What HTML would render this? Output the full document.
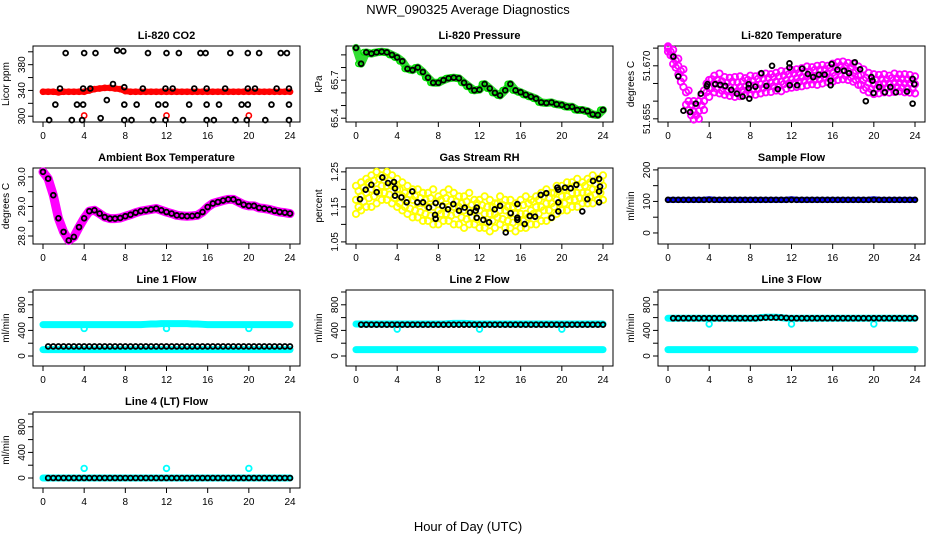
<!DOCTYPE html>
<html><head><meta charset="utf-8"><style>
html,body{margin:0;padding:0;background:#fff;}
svg text{font-family:"Liberation Sans",Arial,sans-serif;}
</style></head><body>
<svg id="chart" width="936" height="540" viewBox="0 0 936 540" xmlns="http://www.w3.org/2000/svg">
<rect width="936" height="540" fill="#fff"/>
<text x="468" y="14" text-anchor="middle" font-size="13">NWR_090325  Average Diagnostics</text>
<text x="468" y="531" text-anchor="middle" font-size="13">Hour of Day (UTC)</text>
</svg>
<script>
const HOURS = [0,0.5,1,1.5,2,2.5,3,3.5,4,4.5,5,5.5,6,6.5,7,7.5,8,8.5,9,9.5,10,10.5,11,11.5,12,12.5,13,13.5,14,14.5,15,15.5,16,16.5,17,17.5,18,18.5,19,19.5,20,20.5,21,21.5,22,22.5,23,23.5,24];
const HOURS_Q = [0.25,0.75,1.25,1.75,2.25,2.75,3.25,3.75,4.25,4.75,5.25,5.75,6.25,6.75,7.25,7.75,8.25,8.75,9.25,9.75,10.25,10.75,11.25,11.75,12.25,12.75,13.25,13.75,14.25,14.75,15.25,15.75,16.25,16.75,17.25,17.75,18.25,18.75,19.25,19.75,20.25,20.75,21.25,21.75,22.25,22.75,23.25,23.75];
const X_TICKS = [0,4,8,12,16,20,24];

// CO2
const co2Red = [338,338,338,337,338,338,338,338,338,340,342,343,344,344,343,342,339,338,338,338,338,338,338,338,338,338,338,338,338,338,338,338,338,338,338,338,338,338,338,338,338,338,338,338,338,338,338,338,338];
const co2RedExtraHours = [4,12,20];
const co2RedExtraVals = [301,301,301];
const co2BlackHours = [2.2,4.0,5.1,7.2,7.8,10.2,12.0,13.2,15.3,15.8,18.2,19.9,21.0,23.1,23.7, 1.65,3.9,4.6,6.8,7.9,9.7,11.9,12.6,14.7,15.9,17.7,19.9,20.6,22.7,23.9, 1.2,3.3,3.9,6.2,7.9,9.1,11.2,11.9,14.2,15.9,17.1,19.3,19.9,22.2,23.9, 0.6,2.8,3.8,5.6,7.9,8.6,10.7,11.9,13.6,15.9,16.6,18.7,19.8,21.6,23.9];
const co2BlackVals = [398,398,398,402,401,398,398,398,398,398,398,398,398,398,398, 343,343,343,350,345,343,343,343,343,343,343,343,343,343,343, 318,318,318,325,318,318,318,318,318,318,318,318,318,318,318, 294,294,294,297,294,294,294,294,294,294,294,294,294,294,294];

// Pressure
const presGreen = [65.955,65.83,65.92,65.91,65.92,65.925,65.92,65.90,65.88,65.85,65.79,65.78,65.80,65.765,65.72,65.68,65.68,65.70,65.715,65.72,65.715,65.68,65.65,65.62,65.625,65.67,65.635,65.60,65.58,65.62,65.67,65.62,65.605,65.585,65.57,65.555,65.525,65.52,65.525,65.51,65.505,65.49,65.49,65.465,65.465,65.455,65.43,65.425,65.465];
const presBlack = presGreen;

// Li-820 temperature
const tMid = [51.6750,51.6726,51.6700,51.6665,51.6600,51.6570,51.6572,51.6600,51.6637,51.6650,51.6648,51.6642,51.6640,51.6638,51.6640,51.6642,51.6645,51.6645,51.6648,51.6650,51.6652,51.6655,51.6655,51.6660,51.6662,51.6665,51.6668,51.6670,51.6672,51.6673,51.6675,51.6678,51.6680,51.6685,51.6688,51.6685,51.6680,51.6672,51.6660,51.6652,51.6648,51.6648,51.6650,51.6650,51.6652,51.6652,51.6650,51.6650,51.6648];
const tHi = [51.6755,51.6745,51.6720,51.6690,51.6630,51.6600,51.6600,51.6630,51.6660,51.6672,51.6678,51.6668,51.6666,51.6668,51.6670,51.6665,51.6672,51.6670,51.6675,51.6678,51.6676,51.6680,51.6685,51.6684,51.6688,51.6690,51.6693,51.6698,51.6696,51.6700,51.6702,51.6700,51.6706,51.6710,51.6712,51.6708,51.6706,51.6698,51.6690,51.6680,51.6676,51.6674,51.6676,51.6672,51.6678,51.6675,51.6676,51.6674,51.6670];
const tLo = [51.6740,51.6705,51.6675,51.6640,51.6575,51.6548,51.6550,51.6575,51.6612,51.6625,51.6622,51.6618,51.6615,51.6612,51.6614,51.6618,51.6620,51.6618,51.6622,51.6625,51.6626,51.6630,51.6628,51.6635,51.6638,51.6640,51.6642,51.6645,51.6648,51.6646,51.6650,51.6654,51.6655,51.6660,51.6662,51.6660,51.6655,51.6646,51.6632,51.6625,51.6620,51.6622,51.6625,51.6624,51.6626,51.6628,51.6625,51.6624,51.6622];
const tQa = [51.6740,51.6715,51.6685,51.6625,51.6590,51.6588,51.6615,51.6650,51.6662,51.6660,51.6656,51.6652,51.6655,51.6653,51.6656,51.6660,51.6657,51.6663,51.6664,51.6666,51.6668,51.6670,51.6673,51.6676,51.6678,51.6680,51.6684,51.6684,51.6688,51.6689,51.6690,51.6694,51.6697,51.6700,51.6699,51.6694,51.6686,51.6674,51.6666,51.6662,51.6660,51.6663,51.6662,51.6665,51.6664,51.6663,51.6662,51.6660];
const tQb = [51.6730,51.6695,51.6655,51.6590,51.6560,51.6560,51.6588,51.6625,51.6637,51.6635,51.6630,51.6628,51.6625,51.6628,51.6630,51.6632,51.6632,51.6634,51.6637,51.6640,51.6642,51.6642,51.6648,51.6650,51.6652,51.6655,51.6657,51.6660,51.6660,51.6662,51.6666,51.6667,51.6672,51.6675,51.6672,51.6668,51.6660,51.6646,51.6638,51.6634,51.6635,51.6637,51.6637,51.6639,51.6640,51.6638,51.6637,51.6635];
const tBlackHours = [0.52,1.0,1.5,2.15,2.7,3.19,3.77,3.84,4.59,5.07,5.56,6.15,6.7,7.25,7.84,7.84,7.9,8.49,9.07,9.56,10.11,10.67,11.8,11.8,11.83,12.55,13.04,13.59,14.11,14.67,15.22,15.8,15.8,15.9,16.46,17.11,17.59,18.15,18.67,19.22,19.77,19.87,19.97,20.52,21.07,21.6,22.15,23.22,23.77,23.93,23.77];
const tBlackVals = [51.6726,51.6670,51.6573,51.6569,51.6593,51.6621,51.6642,51.6648,51.6648,51.6646,51.6643,51.6632,51.6621,51.6613,51.6648,51.6637,51.6607,51.6641,51.6679,51.6643,51.6700,51.6634,51.6707,51.6695,51.6645,51.6645,51.6692,51.6677,51.6668,51.6675,51.6675,51.6658,51.6645,51.6705,51.6689,51.6686,51.6679,51.6710,51.6690,51.6600,51.6668,51.6658,51.6623,51.6640,51.6625,51.6640,51.6625,51.6627,51.6663,51.6648,51.6593];

// Ambient box temperature
const ambVals = [30.17,29.94,29.38,28.6,28.14,27.85,27.97,28.3,28.6,28.84,28.87,28.76,28.64,28.59,28.59,28.61,28.67,28.72,28.79,28.84,28.87,28.9,28.93,28.87,28.81,28.76,28.7,28.68,28.67,28.68,28.7,28.81,28.98,29.1,29.15,29.2,29.24,29.24,29.15,29.06,29.02,29.02,28.95,28.93,28.9,28.85,28.81,28.79,28.76];

// Gas stream RH
const rhMid = [1.17,1.18,1.19,1.20,1.20,1.21,1.21,1.21,1.20,1.18,1.17,1.17,1.16,1.16,1.15,1.15,1.14,1.15,1.15,1.15,1.15,1.14,1.14,1.14,1.14,1.13,1.13,1.13,1.14,1.14,1.13,1.13,1.13,1.13,1.14,1.15,1.15,1.16,1.16,1.17,1.18,1.18,1.19,1.19,1.19,1.19,1.20,1.20,1.21];
const rhHi = [1.21,1.22,1.23,1.24,1.25,1.24,1.25,1.24,1.23,1.22,1.21,1.20,1.20,1.19,1.19,1.20,1.18,1.19,1.20,1.19,1.18,1.18,1.19,1.17,1.17,1.18,1.17,1.16,1.18,1.17,1.17,1.16,1.17,1.18,1.17,1.18,1.19,1.20,1.19,1.21,1.21,1.22,1.22,1.23,1.22,1.23,1.24,1.23,1.24];
const rhLo = [1.13,1.14,1.15,1.15,1.16,1.17,1.17,1.16,1.15,1.14,1.13,1.12,1.12,1.11,1.11,1.10,1.10,1.11,1.11,1.10,1.10,1.09,1.10,1.10,1.09,1.09,1.08,1.09,1.10,1.09,1.09,1.08,1.09,1.09,1.10,1.10,1.11,1.11,1.12,1.13,1.14,1.14,1.15,1.15,1.16,1.16,1.16,1.17,1.17];
const rhQa = [1.195,1.205,1.22,1.225,1.23,1.235,1.225,1.21,1.2,1.19,1.185,1.18,1.175,1.17,1.175,1.165,1.17,1.175,1.17,1.165,1.16,1.165,1.155,1.16,1.155,1.15,1.15,1.16,1.155,1.15,1.15,1.15,1.155,1.16,1.165,1.17,1.18,1.175,1.19,1.195,1.2,1.205,1.21,1.205,1.21,1.22,1.215,1.225];
const rhQb = [1.15,1.165,1.175,1.18,1.19,1.19,1.185,1.175,1.16,1.15,1.145,1.14,1.135,1.13,1.125,1.12,1.13,1.13,1.125,1.13,1.12,1.115,1.12,1.115,1.11,1.105,1.11,1.12,1.115,1.11,1.105,1.11,1.11,1.12,1.13,1.13,1.14,1.14,1.15,1.16,1.16,1.17,1.17,1.175,1.175,1.18,1.185,1.19];
const rhBlackHours = [0.39,0.94,1.49,2.01,2.56,3.11,3.69,3.79,3.79,4.41,4.92,5.47,5.96,6.51,7.09,7.68,7.74,7.74,8.39,8.94,9.46,10.01,10.56,11.08,11.63,11.73,11.73,12.37,12.93,13.48,14.0,14.55,15.03,15.68,15.68,15.68,16.39,16.88,17.40,17.95,18.49,19.01,19.57,19.66,19.66,19.66,20.31,20.86,21.41,21.99,22.48,23.03,23.62,23.62,23.71,23.62];
const rhBlackVals = [1.172,1.199,1.213,1.192,1.234,1.218,1.221,1.203,1.182,1.177,1.163,1.194,1.163,1.163,1.148,1.127,1.116,1.161,1.153,1.143,1.158,1.139,1.148,1.134,1.139,1.148,1.119,1.113,1.106,1.143,1.153,1.077,1.132,1.158,1.119,1.113,1.101,1.124,1.122,1.184,1.189,1.119,1.205,1.199,1.163,1.137,1.205,1.203,1.213,1.137,1.172,1.224,1.230,1.194,1.208,1.163];

// Flows
const sampleBlue = [105,105,105,105,105,105,105,105,107,105,105,105,105,105,105,105,105,105,105,105,105,105,105,105,107,105,105,105,105,105,105,105,105,105,105,105,105,105,105,105,107,105,105,105,105,105,105,105,105];
const sampleBlack = [105,105,105,105,105,105,105,105,105,105,105,105,105,105,105,105,105,105,105,105,105,105,105,105,105,105,105,105,105,105,105,105,105,105,105,105,105,105,105,105,105,105,105,105,105,105,105,105,105];
const l1CyanHi = [490,490,490,490,490,490,490,490,490,490,490,490,490,490,490,490,490,490,490,490,495,500,500,505,505,505,505,505,505,500,500,495,490,490,490,490,490,490,490,490,490,490,490,490,490,490,490,490,490];
const l1CyanLo = [100,100,100,100,100,100,100,100,100,100,100,100,100,100,100,100,100,100,100,100,100,100,100,100,100,100,100,100,100,100,100,100,100,100,100,100,100,100,100,100,100,100,100,100,100,100,100,100,100];
const l1Black = [150,150,150,150,150,150,150,150,150,150,150,150,150,150,150,150,150,150,150,150,150,150,150,150,150,150,150,150,150,150,150,150,150,150,150,150,150,150,150,150,150,150,150,150,150,150,150,150];
const l2CyanHi = [500,500,500,500,500,500,500,500,500,500,500,500,500,500,500,500,500,500,505,510,510,510,505,500,500,500,500,500,500,500,500,500,500,500,500,500,500,500,500,500,500,500,500,500,500,500,500,500,500];
const l2CyanLo = [100,100,100,100,100,100,100,100,100,100,100,100,100,100,100,100,100,100,100,100,100,100,100,100,100,100,100,100,100,100,100,100,100,100,100,100,100,100,100,100,100,100,100,100,100,100,100,100,100];
const l2Black = [490,490,490,490,490,490,490,490,490,490,490,490,490,490,490,490,490,490,490,490,490,490,490,490,490,490,490,490,490,490,490,490,490,490,490,490,490,490,490,490,490,490,490,490,490,490,490,490];
const l3CyanHi = [590,590,590,590,590,590,590,590,590,590,590,590,590,590,590,590,590,590,600,605,605,605,600,590,590,590,590,590,590,590,590,590,590,590,590,590,590,590,590,590,590,590,590,590,590,590,590,590,590];
const l3CyanLo = [100,100,100,100,100,100,100,100,100,100,100,100,100,100,100,100,100,100,100,100,100,100,100,100,100,100,100,100,100,100,100,100,100,100,100,100,100,100,100,100,100,100,100,100,100,100,100,100,100];
const l3Black = [590,590,590,590,590,590,590,590,590,590,590,590,590,590,590,590,590,595,600,600,600,600,595,590,590,590,590,590,590,590,590,590,590,590,590,590,590,590,590,590,590,590,590,590,590,590,590,590];
const l4Cyan = [0,0,0,0,0,0,0,0,0,0,0,0,0,0,0,0,0,0,0,0,0,0,0,0,0,0,0,0,0,0,0,0,0,0,0,0,0,0,0,0,0,0,0,0,0,0,0,0,0];
const l4Black = [0,0,0,0,0,0,0,0,0,0,0,0,0,0,0,0,0,0,0,0,0,0,0,0,0,0,0,0,0,0,0,0,0,0,0,0,0,0,0,0,0,0,0,0,0,0,0,0];
const DIP_HOURS = [4,12,20];
const l1Dips = [430,430,430];
const l2Dips = [420,420,420];
const l3Dips = [500,500,500];
const l4Dips = [150,150,150];

const svg = document.getElementById('chart');
const NS = 'http://www.w3.org/2000/svg';
function mk(tag, attrs, parent){
  const e = document.createElementNS(NS, tag);
  for (const k in attrs) e.setAttribute(k, attrs[k]);
  (parent||svg).appendChild(e);
  return e;
}
const COLS = [33,346,658], ROWS = [46,168,290,412], PW = 267, PH = 76;

function panel(col,row,title,ylab,ymin,ymax,yticks,ylabels,slug){
  const L = COLS[col], T = ROWS[row], B = T+PH;
  const g = mk('g',{});
  
  
  const sx = h => L + 10 + h*(247/24);
  const sy = v => B - (v-ymin)/(ymax-ymin)*PH;
  const t = mk('text',{x:L+PW/2,y:T-7,'text-anchor':'middle','font-size':11,'font-weight':'bold'},g);
  t.textContent = title;
  
  
  const yl = mk('text',{transform:`translate(${L-24},${T+PH/2}) rotate(-90)`,'text-anchor':'middle','font-size':10},g);
  yl.textContent = ylab;
  
  
  const box = mk('rect',{x:L,y:T,width:PW,height:PH,fill:'none',stroke:'#000','stroke-width':1},g);
  
  
  X_TICKS.forEach(h=>{
    mk('line',{x1:sx(h),x2:sx(h),y1:B,y2:B+5,stroke:'#000'},g);
    const tx = mk('text',{x:sx(h),y:B+17,'text-anchor':'middle','font-size':10},g);
    tx.textContent = h;
    
    
  });
  yticks.forEach(v=>{ mk('line',{x1:L,x2:L-5,y1:sy(v),y2:sy(v),stroke:'#000'},g); });
  ylabels.forEach(v=>{
    const ty = mk('text',{transform:`translate(${L-8},${sy(v)}) rotate(-90)`,'text-anchor':'middle','font-size':10},g);
    ty.textContent = v;
    
    
  });
  const marks = mk('g',{},g);
  
  
  return {sx,sy,g:marks};
}
function pts(p,hours,vals,color,r,sw,name){
  vals.forEach((v,i)=>{
    const c = mk('circle',{cx:p.sx(hours[i]),cy:p.sy(v),r:r,fill:'none',stroke:color,'stroke-width':sw},p.g);
    
    
  });
}
function band(p,hours,vals,color,w,name){
  const d = vals.map((v,i)=>(i?'L':'M')+p.sx(hours[i])+','+p.sy(v)).join(' ');
  const l = mk('path',{d:d,fill:'none',stroke:color,'stroke-width':w,'stroke-linejoin':'round','stroke-linecap':'round'},p.g);
  
  
}
const H2 = HOURS.slice(1);
const BR = 2.4, BW = 1.8;

// CO2
let p = panel(0,0,'Li-820 CO2','Licor ppm',291,409,[300,320,340,360,380,400],['300','340','380'],'co2');
band(p,HOURS,co2Red,'#f00',6,'co2-red-series');
pts(p,HOURS,co2Red,'#f00',2.6,1.6,'co2-red-point');
pts(p,co2RedExtraHours,co2RedExtraVals,'#f00',2.6,1.6,'co2-red-point');
pts(p,co2BlackHours,co2BlackVals,'#000',BR,BW,'co2-black-point');

// Pressure
p = panel(1,0,'Li-820 Pressure','kPa',65.37,65.97,[65.4,65.5,65.6,65.7,65.8,65.9],['65.4','65.7'],'pressure');
band(p,HOURS,presGreen,'#33dd33',8,'pressure-green-series');
pts(p,HOURS_Q,presGreen.slice(1),'#00e000',2.8,1.5,'pressure-green-point');
pts(p,HOURS,presBlack,'#000',BR,BW,'pressure-black-point');

// Li-820 temperature
p = panel(2,0,'Li-820 Temperature','degrees C',51.6541,51.6756,[51.655,51.660,51.665,51.670,51.675],['51.655','51.670'],'li820-temp');
pts(p,HOURS,tHi,'#ff00ff',3.2,1.8,'temp-magenta-point');
pts(p,HOURS,tLo,'#ff00ff',3.2,1.8,'temp-magenta-point');
pts(p,HOURS,tMid,'#ff00ff',3.2,1.8,'temp-magenta-point');
pts(p,HOURS_Q,tQa,'#ff00ff',3.2,1.8,'temp-magenta-point');
pts(p,HOURS_Q,tQb,'#ff00ff',3.2,1.8,'temp-magenta-point');
pts(p,tBlackHours,tBlackVals,'#000',BR,BW,'temp-black-point');

// Ambient
p = panel(0,1,'Ambient Box Temperature','degrees C',27.73,30.3,[28.0,28.5,29.0,29.5,30.0],['28.0','29.0','30.0'],'ambient-temp');
band(p,HOURS,ambVals,'#ff00ff',9,'ambient-magenta-series');
pts(p,HOURS,ambVals,'#000',BR,BW,'ambient-black-point');

// RH
p = panel(1,1,'Gas Stream RH','percent',1.044,1.261,[1.05,1.10,1.15,1.20,1.25],['1.05','1.15','1.25'],'rh');
pts(p,HOURS,rhHi,'#ffff00',3.2,1.8,'rh-yellow-point');
pts(p,HOURS,rhLo,'#ffff00',3.2,1.8,'rh-yellow-point');
pts(p,HOURS,rhMid,'#ffff00',3.2,1.8,'rh-yellow-point');
pts(p,HOURS_Q,rhQa,'#ffff00',3.2,1.8,'rh-yellow-point');
pts(p,HOURS_Q,rhQb,'#ffff00',3.2,1.8,'rh-yellow-point');
pts(p,rhBlackHours,rhBlackVals,'#000',BR,BW,'rh-black-point');

// Sample flow
p = panel(2,1,'Sample Flow','ml/min',-35,206,[0,50,100,150,200],['0','100','200'],'sample-flow');
band(p,HOURS,sampleBlue,'#0000ff',6,'sample-blue-series');
pts(p,HOURS,sampleBlack,'#000',BR,BW,'sample-black-point');

// Line flows
const FY = [-156,1031], FT = [0,200,400,600,800,1000], FL = ['0','400','800'];
p = panel(0,2,'Line 1 Flow','ml/min',FY[0],FY[1],FT,FL,'line1-flow');
band(p,HOURS,l1CyanHi,'#00ffff',7,'line1-cyan-series');
band(p,HOURS,l1CyanLo,'#00ffff',7,'line1-cyan-low-series');
pts(p,DIP_HOURS,l1Dips,'#00ffff',2.8,1.8,'line1-cyan-dip');
pts(p,H2,l1Black,'#000',BR,BW,'line1-black-point');

p = panel(1,2,'Line 2 Flow','ml/min',FY[0],FY[1],FT,FL,'line2-flow');
band(p,HOURS,l2CyanHi,'#00ffff',7,'line2-cyan-series');
band(p,HOURS,l2CyanLo,'#00ffff',7,'line2-cyan-low-series');
pts(p,DIP_HOURS,l2Dips,'#00ffff',2.8,1.8,'line2-cyan-dip');
pts(p,H2,l2Black,'#000',BR,BW,'line2-black-point');

p = panel(2,2,'Line 3 Flow','ml/min',FY[0],FY[1],FT,FL,'line3-flow');
band(p,HOURS,l3CyanHi,'#00ffff',7,'line3-cyan-series');
band(p,HOURS,l3CyanLo,'#00ffff',7,'line3-cyan-low-series');
pts(p,DIP_HOURS,l3Dips,'#00ffff',2.8,1.8,'line3-cyan-dip');
pts(p,H2,l3Black,'#000',BR,BW,'line3-black-point');

p = panel(0,3,'Line 4 (LT) Flow','ml/min',FY[0],FY[1],FT,FL,'line4-flow');
band(p,HOURS,l4Cyan,'#00ffff',7,'line4-cyan-series');
pts(p,DIP_HOURS,l4Dips,'#00ffff',2.8,1.8,'line4-cyan-dip');
pts(p,H2,l4Black,'#000',BR,BW,'line4-black-point');
</script>
</body></html>
